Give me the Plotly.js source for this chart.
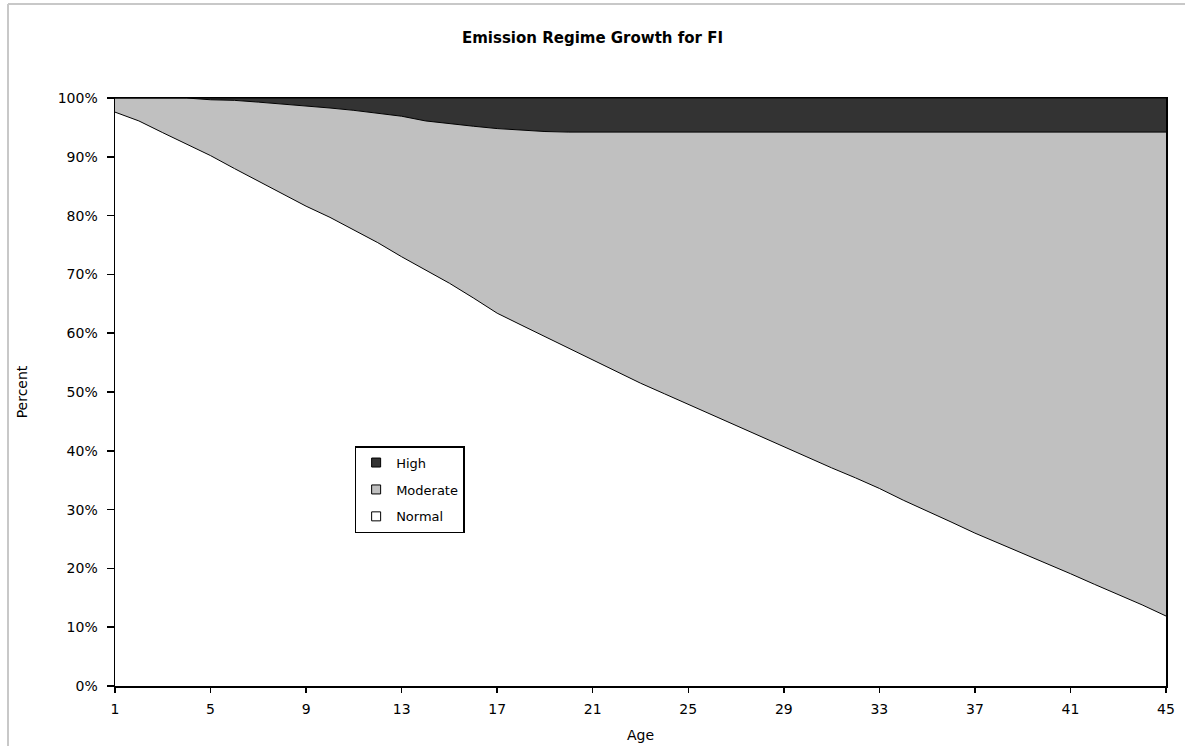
<!DOCTYPE html>
<html>
<head>
<meta charset="utf-8">
<script src="https://cdn.plot.ly/plotly-3.0.1.min.js"></script>
<style>
  html, body { margin: 0; padding: 0; background: #ffffff; }
  #chart { width: 1185px; height: 746px; }
</style>
</head>
<body>
<div id="chart"></div>
<script>
// Ages 1..45
const ages = [1,2,3,4,5,6,7,8,9,10,11,12,13,14,15,16,17,18,19,20,21,22,23,24,25,26,27,28,29,30,31,32,33,34,35,36,37,38,39,40,41,42,43,44,45];

// Share of fleet in each emission regime (percent)
const normal = [97.6,96.1,94.1,92.1,90.2,88.0,85.9,83.8,81.6,79.7,77.6,75.4,73.0,70.8,68.5,66.0,63.4,61.4,59.4,57.4,
                55.5,53.5,51.5,49.7,47.9,46.0,44.2,42.4,40.7,38.9,37.1,35.4,33.6,31.6,29.8,27.9,26.0,24.3,22.6,20.8,
                19.1,17.3,15.6,13.8,11.9];
const moderate = [2.4,3.9,5.9,7.9,9.5,11.6,13.4,15.2,17.1,18.6,20.3,22.0,23.9,25.3,27.1,29.2,31.4,33.1,34.9,36.8,
                  38.7,40.7,42.7,44.5,46.3,48.2,50.0,51.8,53.5,55.3,57.1,58.8,60.6,62.6,64.4,66.3,68.2,69.9,71.6,73.4,
                  75.1,76.9,78.6,80.4,82.3];
const high = [0,0,0,0,0.3,0.4,0.7,1.0,1.3,1.7,2.1,2.6,3.1,3.9,4.4,4.8,5.2,5.5,5.7,5.8,
              5.8,5.8,5.8,5.8,5.8,5.8,5.8,5.8,5.8,5.8,5.8,5.8,5.8,5.8,5.8,5.8,5.8,5.8,5.8,5.8,
              5.8,5.8,5.8,5.8,5.8];

const seriesNames = ['Normal', 'Moderate', 'High'];
const xTicks = [1,5,9,13,17,21,25,29,33,37,41,45];
const yTicks = [0,10,20,30,40,50,60,70,80,90,100];
const yTickLabels = ['0%','10%','20%','30%','40%','50%','60%','70%','80%','90%','100%'];

const fills = ['#ffffff', '#c0c0c0', '#333333'];
const values = [normal, moderate, high];

const areaTraces = values.map((v, i) => ({
  x: ages,
  y: v,
  name: seriesNames[i],
  type: 'scatter',
  mode: 'lines',
  stackgroup: 'one',
  fillcolor: fills[i],
  line: { color: '#000000', width: 1 },
  showlegend: false,
  hoverinfo: 'skip'
}));

// Legend entries (square swatches like the original), top to bottom: High, Moderate, Normal
const legendTraces = [2, 1, 0].map((i, k) => ({
  x: [null],
  y: [null],
  name: seriesNames[i],
  type: 'scatter',
  mode: 'markers',
  legendgroup: 'g' + k,
  marker: { symbol: 'square', size: 9, color: fills[i], line: { color: '#000000', width: 1 } },
  hoverinfo: 'skip'
}));

const fam = '"DejaVu Sans", Verdana, sans-serif';
const font = { family: fam, color: '#000000', size: 14 };

const layout = {
  width: 1185,
  height: 746,
  paper_bgcolor: '#ffffff',
  plot_bgcolor: '#ffffff',
  margin: { l: 115, r: 19, t: 98, b: 60 },
  font: font,
  showlegend: true,
  title: {
    text: '<b>Emission Regime Growth for FI</b>',
    font: { family: fam, size: 15, color: '#000000' },
    x: 0.5, xref: 'container', xanchor: 'center',
    y: 1 - 38 / 746, yref: 'container', yanchor: 'middle'
  },
  xaxis: {
    range: [1, 45],
    tickmode: 'array',
    tickvals: xTicks,
    ticktext: xTicks.map(String),
    ticks: 'outside', ticklen: 5, tickwidth: 1.5, tickcolor: '#000000',
    ticklabelstandoff: 5,
    showline: true, linecolor: '#000000', linewidth: 1.5, mirror: true,
    showgrid: false, zeroline: false,
    tickfont: font,
    title: { text: 'Age', font: font, standoff: 14 }
  },
  yaxis: {
    range: [0, 100],
    tickmode: 'array',
    tickvals: yTicks,
    ticktext: yTickLabels,
    ticks: 'outside', ticklen: 7, tickwidth: 1.5, tickcolor: '#000000',
    ticklabelstandoff: 6,
    showline: true, linecolor: '#000000', linewidth: 1.5, mirror: true,
    showgrid: false, zeroline: false,
    tickfont: font,
    title: { text: 'Percent', font: font, standoff: 27 }
  },
  legend: {
    x: 0.228, y: 0.408, xanchor: 'left', yanchor: 'top',
    traceorder: 'grouped',
    tracegroupgap: 7,
    bgcolor: '#ffffff',
    bordercolor: '#000000', borderwidth: 1.5,
    font: { family: fam, color: '#000000', size: 13 },
    itemwidth: 30
  },
  shapes: [
    { type: 'line', xref: 'paper', yref: 'paper',
      x0: (8 - 115) / 1051, x1: (1185 - 115) / 1051,
      y0: (686 - 4) / 588, y1: (686 - 4) / 588,
      line: { color: '#c8c8c8', width: 2 } },
    { type: 'line', xref: 'paper', yref: 'paper',
      x0: (8 - 115) / 1051, x1: (8 - 115) / 1051,
      y0: (686 - 4) / 588, y1: (686 - 746) / 588,
      line: { color: '#c8c8c8', width: 2 } }
  ]
};

Plotly.newPlot('chart', areaTraces.concat(legendTraces), layout, { displayModeBar: false, staticPlot: true });
</script>
</body>
</html>
